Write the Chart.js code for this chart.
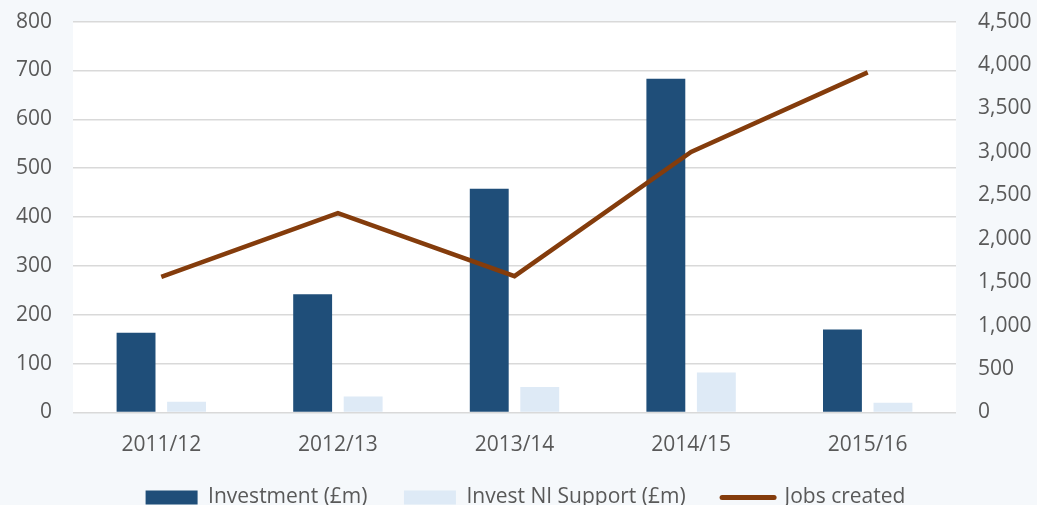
<!DOCTYPE html>
<html>
<head>
<meta charset="utf-8">
<script src="https://cdn.jsdelivr.net/npm/chart.js@4"></script>
<style>
  html, body { margin: 0; padding: 0; background: #f5f8fb; overflow: hidden; }
  #wrap { position: relative; width: 1037px; height: 531px; margin-top: -13px; }
</style>
</head>
<body>
<div id="wrap"><canvas id="chart"></canvas></div>
<script>
const years = ['2011/12', '2012/13', '2013/14', '2014/15', '2015/16'];
const investment = [163, 242, 458, 683, 170];
const niSupport = [22, 33, 52, 82, 20];
const jobsCreated = [1560, 2295, 1570, 3000, 3915];

// white plot area on the tinted page
const plotBg = {
    id: 'plotBg',
    beforeDraw(chart) {
        const a = chart.chartArea;
        const ctx = chart.ctx;
        ctx.save();
        ctx.fillStyle = '#ffffff';
        ctx.fillRect(a.left, a.top, a.right - a.left, a.bottom - a.top);
        ctx.restore();
    }
};

const font = { family: "'Open Sans', sans-serif", size: 21 };

new Chart(document.getElementById('chart'), {
    data: {
        labels: years,
        datasets: [
            {
                type: 'bar',
                label: 'Investment (£m) ',
                data: investment,
                yAxisID: 'y',
                backgroundColor: '#1f4e79',
                categoryPercentage: 0.572,
                barPercentage: 0.77,
                order: 1
            },
            {
                type: 'bar',
                label: 'Invest NI Support (£m) ',
                data: niSupport,
                yAxisID: 'y',
                backgroundColor: '#deeaf6',
                categoryPercentage: 0.572,
                barPercentage: 0.77,
                order: 1
            },
            {
                type: 'line',
                label: 'Jobs created',
                data: jobsCreated,
                yAxisID: 'y2',
                borderColor: '#843c0c',
                backgroundColor: '#843c0c',
                borderWidth: 4.5,
                pointRadius: 0,
                tension: 0,
                order: 0
            }
        ]
    },
    options: {
        responsive: true,
        maintainAspectRatio: false,
        animation: false,
        layout: { padding: { top: 0, left: 14, right: 0, bottom: 0 } },
        scales: {
            x: {
                grid: { display: false },
                border: { display: false },
                ticks: { color: '#595959', font: font, padding: 12 },
                afterFit(scale) { scale.height = 43.5; }
            },
            y: {
                position: 'left',
                min: 0,
                max: 800,
                ticks: { stepSize: 100, color: '#595959', font: font, padding: 21 },
                grid: { color: '#d9d9d9', lineWidth: 1.5, drawTicks: false },
                border: { display: false },
                afterFit(scale) { scale.width = 59; }
            },
            y2: {
                position: 'right',
                min: 0,
                max: 4500,
                ticks: { stepSize: 500, color: '#595959', font: font, padding: 22 },
                grid: { drawOnChartArea: false, drawTicks: false },
                border: { display: false },
                afterFit(scale) { scale.width = 81; }
            }
        },
        plugins: {
            legend: {
                position: 'bottom',
                labels: {
                    color: '#595959',
                    font: font,
                    padding: 31,
                    usePointStyle: true,
                    pointStyleWidth: 52,
                    boxHeight: 14,
                    generateLabels(chart) {
                        const items = Chart.defaults.plugins.legend.labels.generateLabels(chart);
                        items.forEach(it => {
                            const ds = chart.data.datasets[it.datasetIndex];
                            if (ds.type === 'line') {
                                it.pointStyle = 'line';
                                it.lineWidth = 5;
                                it.lineCap = 'round';
                            } else {
                                it.pointStyle = 'rect';
                                it.lineWidth = 0;
                            }
                        });
                        return items.sort((a, b) => a.datasetIndex - b.datasetIndex);
                    }
                }
            },
            tooltip: { enabled: false }
        }
    },
    plugins: [plotBg]
});
</script>
</body>
</html>
